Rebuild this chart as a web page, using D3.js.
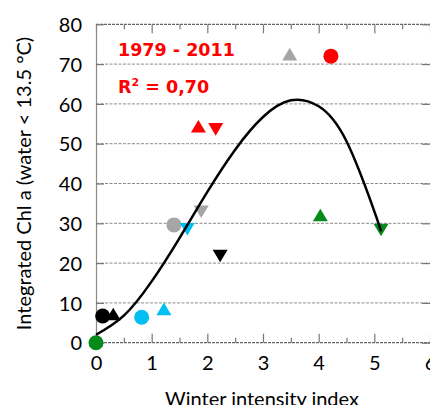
<!DOCTYPE html>
<html>
<head>
<meta charset="utf-8">
<script src="https://cdn.jsdelivr.net/npm/d3@7"></script>
<style>
  html, body { margin: 0; padding: 0; background: #fff; }
  svg { display: block; }
</style>
</head>
<body>
<div id="chart"></div>
<script>
// one circle, one up triangle and one down triangle per group
const groups = ['black', 'cyan', 'gray', 'red', 'green']
const circleX = [0.12, 0.82, 1.40, 4.22, 0.00]
const circleY = [6.7, 6.4, 29.6, 72.0, 0.0]
const upX = [0.31, 1.22, 3.48, 1.84, 4.03]
const upY = [7.2, 8.5, 72.5, 54.4, 32.1]
const downX = [2.23, 1.64, 1.89, 2.15, 5.12]
const downY = [21.8, 28.5, 32.9, 53.6, 28.3]

// fitted curve
const fitX = [0, 0.5, 1, 1.5, 2, 2.5, 3, 3.5, 4, 4.5, 5, 5.12]
const fitY = [2, 6.8, 15.4, 26.3, 37.9, 48.5, 56.7, 60.9, 59.4, 50.6, 33.0, 28.0]

const xTicks = [0, 1, 2, 3, 4, 5, 6]
const yTicks = [0, 10, 20, 30, 40, 50, 60, 70, 80]
const legendTitle = '1979 - 2011'
const legendR2 = '0,70'
const xTitle = 'Winter intensity index'
const yTitle = 'Integrated Chl a (water < 13.5 °C)'

const colors = { black: '#000000', cyan: '#00bff3', gray: '#a6a6a6', red: '#ff0000', green: '#058a1b' }
const width = 430, height = 405
const tickFont = 'Lato, "Open Sans", sans-serif'

var svg = d3.select('#chart').append('svg').attr('width', width).attr('height', height)

var x = d3.scaleLinear().domain([0, 6]).range([96, 430])
var y = d3.scaleLinear().domain([0, 80]).range([342.7, 24.3])

// dashed gridlines
svg.append('g').selectAll('line')
  .data(yTicks.slice(1, -1))
  .join('line')
  .attr('x1', x(0)).attr('x2', x(6))
  .attr('y1', d => y(d)).attr('y2', d => y(d))
  .attr('stroke', '#8a8a8a').attr('stroke-width', 1)
  .attr('stroke-dasharray', '3,1.5')

// top and bottom frame lines
svg.append('g').selectAll('line')
  .data([0, 80])
  .join('line')
  .attr('x1', x(0)).attr('x2', x(6))
  .attr('y1', d => y(d)).attr('y2', d => y(d))
  .attr('stroke', '#666').attr('stroke-width', 1.2)
  .attr('stroke-dasharray', '3,1')

const halfTicks = d3.range(0, 6.01, 0.5)
const minorTicks = halfTicks.filter(d => d % 1 !== 0)

function styleAxis(g) {
  g.select('.domain').remove()
  g.selectAll('.tick line').attr('stroke', '#777').attr('stroke-width', 1.2)
}

// bottom axis with inward ticks
var xAxis = svg.append('g').attr('transform', `translate(0,${y(0)})`)
  .call(d3.axisBottom(x).tickValues(xTicks).tickSizeInner(-9).tickSizeOuter(0).tickFormat(d3.format('d')))
  .call(styleAxis)
xAxis.selectAll('text')
  .attr('y', 27.5).attr('dy', null)
  .style('font-family', tickFont).style('font-size', '20px').attr('fill', '#000')
svg.append('g').attr('transform', `translate(0,${y(0)})`)
  .call(d3.axisBottom(x).tickValues(minorTicks).tickSizeInner(-5).tickSizeOuter(0).tickFormat(''))
  .call(styleAxis)

// top mirrored ticks
svg.append('g').attr('transform', `translate(0,${y(80)})`)
  .call(d3.axisTop(x).tickValues(xTicks).tickSizeInner(-9).tickSizeOuter(0).tickFormat(''))
  .call(styleAxis)
svg.append('g').attr('transform', `translate(0,${y(80)})`)
  .call(d3.axisTop(x).tickValues(minorTicks).tickSizeInner(-5).tickSizeOuter(0).tickFormat(''))
  .call(styleAxis)

// left axis
var yAxis = svg.append('g').attr('transform', `translate(${x(0)},0)`)
  .call(d3.axisLeft(y).tickValues(yTicks).tickSizeInner(-8).tickSizeOuter(0).tickPadding(14))
yAxis.select('.domain').attr('stroke', '#8a8a8a').attr('stroke-width', 1.2)
yAxis.selectAll('.tick line').attr('stroke', '#777').attr('stroke-width', 1.2)
yAxis.selectAll('text')
  .attr('dy', '0.36em')
  .style('font-family', tickFont).style('font-size', '20px').attr('fill', '#000')

// right mirrored ticks
svg.append('g').attr('transform', `translate(${x(6)},0)`)
  .call(d3.axisRight(y).tickValues(yTicks).tickSizeInner(-8).tickSizeOuter(0).tickFormat(''))
  .call(styleAxis)

// markers
function triangle(cx, cy, up) {
  const w = 7.5, h = 6.3
  const s = up ? 1 : -1
  return `M${cx},${cy - s * h}L${cx + w},${cy + s * h}L${cx - w},${cy + s * h}Z`
}

var marks = svg.append('g')
marks.selectAll('circle')
  .data(groups)
  .join('circle')
  .attr('cx', (d, i) => x(circleX[i]))
  .attr('cy', (d, i) => y(circleY[i]))
  .attr('r', 7.5)
  .attr('fill', d => colors[d])

marks.selectAll('path.up')
  .data(groups)
  .join('path')
  .attr('class', 'up')
  .attr('d', (d, i) => triangle(x(upX[i]), y(upY[i]), true))
  .attr('fill', d => colors[d])

marks.selectAll('path.down')
  .data(groups)
  .join('path')
  .attr('class', 'down')
  .attr('d', (d, i) => triangle(x(downX[i]), y(downY[i]), false))
  .attr('fill', d => colors[d])

// fitted curve
var lineGenerator = d3.line().curve(d3.curveNatural)
  .x(function (d) { return x(d[0]) })
  .y(function (d) { return y(d[1]) })

svg.append('path')
  .attr('d', lineGenerator(fitX.map((v, i) => [v, fitY[i]])))
  .attr('fill', 'none')
  .attr('stroke', '#000')
  .attr('stroke-width', 2.5)

// legend text
var legend = svg.append('g')
  .style('font-family', '"DejaVu Sans", Verdana, sans-serif')
  .style('font-weight', 'bold')
  .style('font-size', '17.5px')
  .attr('fill', '#ff0000')
legend.append('text').attr('x', 118).attr('y', 56).text(legendTitle)
var r2 = legend.append('text').attr('x', 118).attr('y', 93)
r2.append('tspan').text('R')
r2.append('tspan').attr('dy', -7).style('font-size', '11px').text('2')
r2.append('tspan').attr('dy', 7).text(' = ' + legendR2)

// axis titles
svg.append('text')
  .attr('transform', `translate(31,183.5) rotate(-90)`)
  .attr('text-anchor', 'middle')
  .style('font-family', tickFont).style('font-size', '20px')
  .text(yTitle)

svg.append('text')
  .attr('x', 262).attr('y', 406)
  .attr('text-anchor', 'middle')
  .style('font-family', tickFont).style('font-size', '20px')
  .text(xTitle)
</script>
</body>
</html>
